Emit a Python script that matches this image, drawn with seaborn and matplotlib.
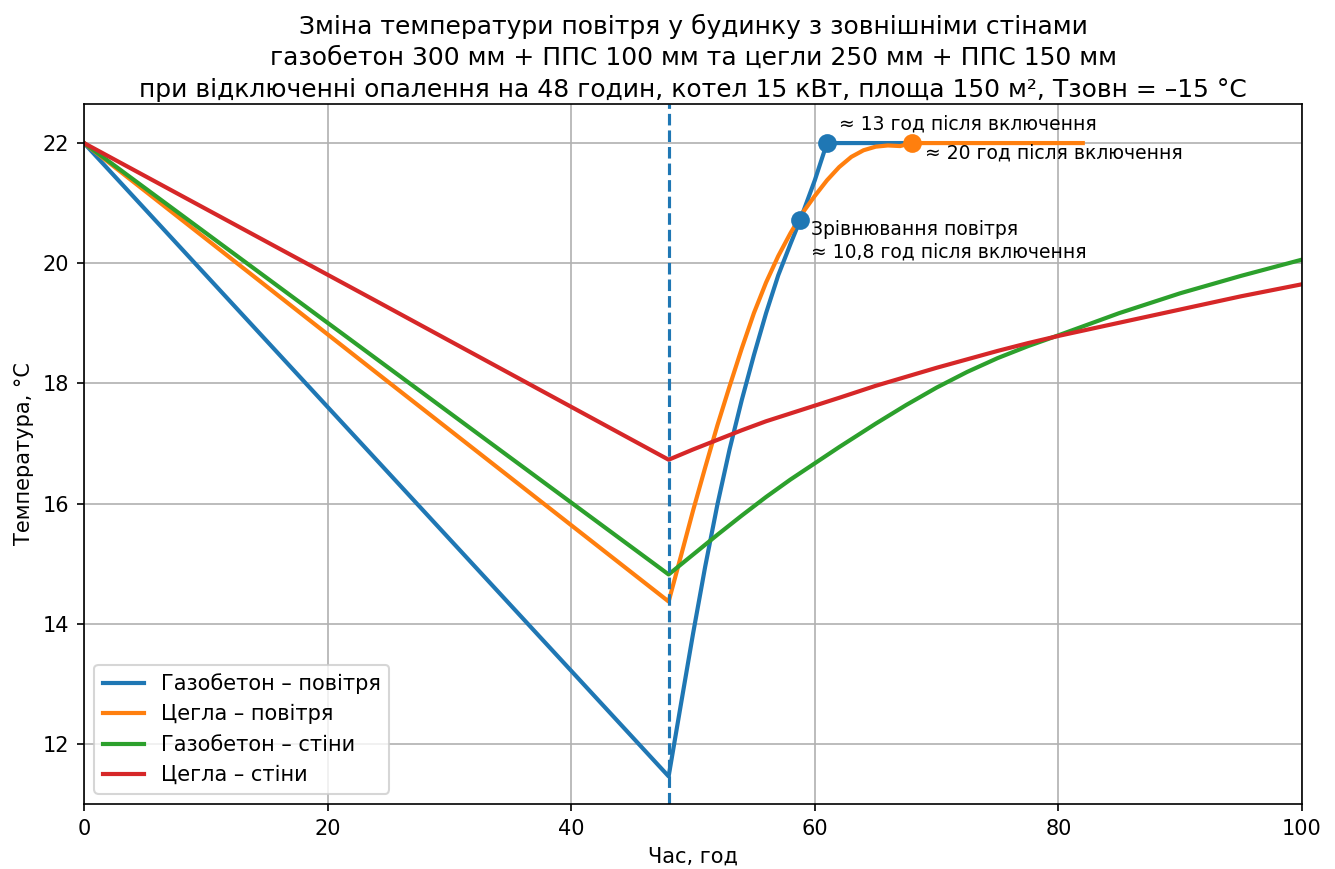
import numpy as np
import pandas as pd
import seaborn as sns
import matplotlib.pyplot as plt

# cooling for 48 h, then heating restarts
hours_gb_air = [0, 24, 48, 49, 50, 51, 52, 53, 54, 55, 56, 57, 58, 58.8, 60, 61, 68]
temp_gb_air = [22.0, 16.73, 11.46, 12.65, 13.83, 14.95, 15.98, 16.9, 17.72, 18.47, 19.17, 19.8, 20.32, 20.72,
               21.38, 22.0, 22.0]

hours_br_air = [0, 24, 48, 49, 50, 51, 52, 53, 54, 55, 56, 57, 58, 59, 60, 61, 62, 63, 64, 65, 66, 67, 68, 82]
temp_br_air = [22.0, 18.18, 14.37, 15.12, 15.88, 16.6, 17.3, 17.95, 18.58, 19.17, 19.68, 20.12, 20.5, 20.84,
               21.12, 21.38, 21.6, 21.77, 21.88, 21.94, 21.96, 21.95, 22.0, 22.0]

hours_walls = [0, 24, 48, 50, 52, 54, 56, 58, 60, 62, 65, 67.5, 70, 72.5, 75, 77.5, 80, 85, 90, 95, 100]
temp_gb_walls = [22.0, 18.41, 14.82, 15.15, 15.48, 15.8, 16.11, 16.4, 16.67, 16.94, 17.33, 17.64, 17.93, 18.19,
                 18.42, 18.62, 18.8, 19.17, 19.5, 19.79, 20.06]
temp_br_walls = [22.0, 19.37, 16.73, 16.9, 17.06, 17.22, 17.37, 17.5, 17.63, 17.76, 17.96, 18.11, 18.26, 18.4,
                 18.54, 18.67, 18.79, 19.01, 19.23, 19.45, 19.65]

series_labels = ["Газобетон – повітря", "Цегла – повітря", "Газобетон – стіни", "Цегла – стіни"]

heating_on = 48
gb_reach = (61, 22.0)
br_reach = (68, 22.0)
air_equal = (58.8, 20.72)

colors = sns.color_palette("tab10")

fig, ax = plt.subplots(figsize=(8.9, 869 / 150), dpi=150)

series = [
    (hours_gb_air, temp_gb_air),
    (hours_br_air, temp_br_air),
    (hours_walls, temp_gb_walls),
    (hours_walls, temp_br_walls),
]
for (hx, ty), label, color in zip(series, series_labels, colors):
    sns.lineplot(x=hx, y=ty, ax=ax, color=color, linewidth=2, label=label, estimator=None, sort=False)

ax.axvline(heating_on, linestyle="--", color=colors[0], linewidth=1.5)

# markers for reaching 22 °C and air temperatures equalizing
ax.plot(*gb_reach, "o", color=colors[0], markersize=8, zorder=5)
ax.plot(*br_reach, "o", color=colors[1], markersize=8, zorder=5)
ax.plot(*air_equal, "o", color=colors[0], markersize=8, zorder=5)

ax.annotate("≈ 13 год після включення", xy=gb_reach, xytext=(6, 9), textcoords="offset points",
            ha="left", va="center", fontsize=9)
ax.annotate("≈ 20 год після включення", xy=br_reach, xytext=(6, -5), textcoords="offset points",
            ha="left", va="center", fontsize=9)
ax.annotate("Зрівнювання повітря\n≈ 10,8 год після включення", xy=air_equal, xytext=(5, -10),
            textcoords="offset points", ha="left", va="center", fontsize=9)

ax.set_xlim(0, 100)
ax.set_ylim(11.0, 22.65)
ax.set_xticks([0, 20, 40, 60, 80, 100])
ax.set_yticks([12, 14, 16, 18, 20, 22])
ax.grid(True)
ax.set_xlabel("Час, год")
ax.set_ylabel("Температура, °C")
ax.set_title("Зміна температури повітря у будинку з зовнішніми стінами\n"
             "газобетон 300 мм + ППС 100 мм та цегли 250 мм + ППС 150 мм\n"
             "при відключенні опалення на 48 годин, котел 15 кВт, площа 150 м², Тзовн = –15 °C",
             linespacing=1.4, pad=3.5)
ax.legend(loc="lower left")

fig.subplots_adjust(left=84 / 1335, right=1302 / 1335, top=1 - 104 / 869, bottom=1 - 804 / 869)
plt.savefig("out.png", dpi=150)
